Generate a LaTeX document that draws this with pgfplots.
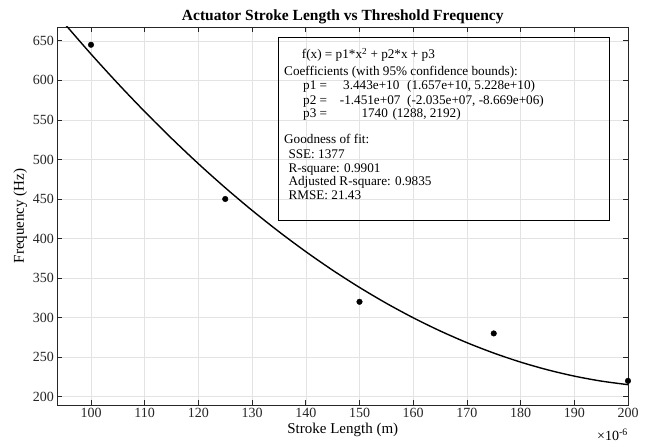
\documentclass[border=0pt]{standalone}
\usepackage{pgfplots}
\pgfplotsset{compat=1.18}
\usepackage{fontspec}
\setmainfont{Liberation Serif}
\begin{document}
\begin{tikzpicture}
\useasboundingbox (-57.5pt,-42pt) rectangle (591.5pt,405pt);
\begin{axis}[
  scale only axis, width=570.5pt, height=378pt,
  xmin=93.76, xmax=200, ymin=189.5, ymax=667.5,
  xtick={100,110,...,200}, ytick={200,250,...,650},
  /pgf/number format/assume math mode=true,
  tick label style={font=\fontsize{14}{16}\selectfont, black!85},
  label style={font=\fontsize{15}{17}\selectfont},
  grid=major, major grid style={gray!22, line width=0.6pt},
  axis line style={black!85, line width=0.7pt},
  major tick style={black!85, line width=0.7pt},
  major tick length=5pt, tick align=inside,
  xlabel={Stroke Length (m)}, ylabel={Frequency (Hz)},
  xlabel style={yshift=2pt},
  ylabel style={yshift=-1pt},
  title={\textbf{Actuator Stroke Length vs Threshold Frequency}},
  title style={font=\fontsize{15.5}{17}\selectfont, yshift=-6pt},
]
\addplot[black, line width=1.4pt, smooth] coordinates {
(93.76,682.2) (95,672.28) (100,633.3) (105,596.04) (110,560.50) (115,526.69)
(120,494.59) (125,464.22) (130,435.57) (135,408.64) (140,383.43) (145,359.94)
(150,338.18) (155,318.13) (160,299.81) (165,283.21) (170,268.33) (175,255.17)
(180,243.73) (185,234.02) (190,226.02) (195,219.75) (200,215.2)};
\addplot[only marks, mark=*, mark size=2.8pt, black] coordinates {
(100,645) (125,450) (150,320) (175,280) (200,220)};
\end{axis}
\node[anchor=north east, font=\fontsize{14}{16}\selectfont, inner sep=0pt] at (570.5pt,-24pt) {×10\textsuperscript{-6}};
\draw[black, line width=0.7pt] (220.5pt,368pt) rectangle (551.5pt,185pt);
\begin{scope}[every node/.style={anchor=base west, inner sep=0pt, font=\fontsize{13.2}{16}\selectfont}]
\node at (244.2pt,346pt) {f(x) = p1*x\textsuperscript{2} + p2*x + p3};
\node at (226.5pt,329.3pt) {Coefficients (with 95\% confidence bounds):};
\node at (245.5pt,315pt) {p1 =};
\node at (285.5pt,315pt) {3.443e+10};
\node at (349.5pt,315pt) {(1.657e+10, 5.228e+10)};
\node at (245.5pt,300.7pt) {p2 =};
\node at (282.2pt,300.7pt) {-1.451e+07};
\node at (349.5pt,300.7pt) {(-2.035e+07, -8.669e+06)};
\node at (245.5pt,287.3pt) {p3 =};
\node at (303.8pt,287.3pt) {1740};
\node at (334.8pt,287.3pt) {(1288, 2192)};
\node at (226.5pt,261pt) {Goodness of fit:};
\node at (230.8pt,246.3pt) {SSE: 1377};
\node at (230.8pt,232.7pt) {R-square: 0.9901};
\node at (230.8pt,219pt) {Adjusted R-square: 0.9835};
\node at (230.8pt,205.7pt) {RMSE: 21.43};
\end{scope}
\end{tikzpicture}
\end{document}
